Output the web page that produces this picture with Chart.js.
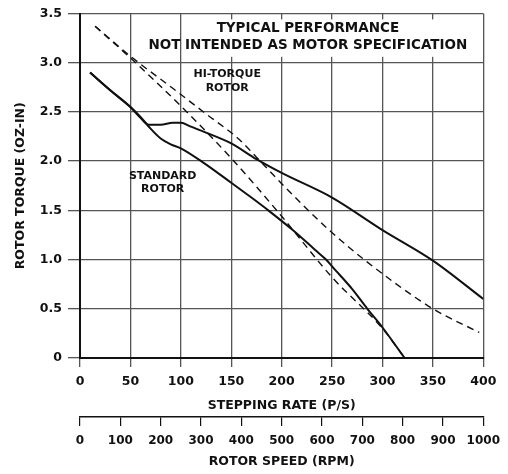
<!DOCTYPE html>
<html>
<head>
<meta charset="utf-8">
<script src="https://cdn.jsdelivr.net/npm/chart.js@4.4.1/dist/chart.umd.min.js"></script>
<style>
  html, body { margin: 0; padding: 0; background: #fff; }
</style>
</head>
<body>
<canvas id="myChart" width="508" height="474"></canvas>
<script>
// tick labels
const torqueTicks = ["0", "0.5", "1.0", "1.5", "2.0", "2.5", "3.0", "3.5"];
const rateTicks = ["0", "50", "100", "150", "200", "250", "300", "350", "400"];
const speedTicks = ["0", "100", "200", "300", "400", "500", "600", "700", "800", "900", "1000"];

// standard rotor (solid)
const stdRate = [10, 30, 50, 60, 70, 80, 90, 100, 123, 150, 170, 188, 211, 233, 244, 250, 270, 285, 300, 322];
const stdTorque = [2.9, 2.72, 2.55, 2.45, 2.33, 2.23, 2.17, 2.13, 1.98, 1.78, 1.63, 1.49, 1.3, 1.1, 1.0, 0.93, 0.7, 0.5, 0.31, 0];

// hi-torque rotor (solid)
const hiRate = [10, 30, 50, 60, 68, 80, 92, 100, 110, 125, 150, 175, 200, 250, 300, 350, 400];
const hiTorque = [2.9, 2.72, 2.55, 2.44, 2.37, 2.37, 2.39, 2.39, 2.35, 2.29, 2.18, 2.02, 1.88, 1.63, 1.3, 0.99, 0.6];

// dashed curves
const dashARate = [15, 52, 92, 125, 158, 175, 204, 246, 283, 350, 396];
const dashATorque = [3.37, 3.05, 2.74, 2.48, 2.22, 2.04, 1.73, 1.31, 0.99, 0.5, 0.26];
const dashBRate = [15, 52, 100, 150, 200, 250, 300, 322];
const dashBTorque = [3.37, 3.03, 2.56, 2.03, 1.44, 0.82, 0.3, 0];

const pts = (xs, ys) => xs.map((v, i) => ({ x: v, y: ys[i] }));

Chart.defaults.font.family = "'DejaVu Sans', sans-serif";
Chart.defaults.font.weight = "bold";
Chart.defaults.color = "#111";

const ink = "#111";
const gridInk = "#555";

const notes = {
  id: "notes",
  beforeDatasetsDraw(chart) {
    const { ctx, scales: { x, y } } = chart;
    ctx.save();
    // white panel behind the heading
    const l = x.getPixelForValue(122), r = x.getPixelForValue(398);
    const t = y.getPixelForValue(3.44), b = y.getPixelForValue(3.06);
    ctx.fillStyle = "#fff";
    ctx.fillRect(l, t, r - l, b - t);
    ctx.fillStyle = ink;
    ctx.textAlign = "center";
    ctx.textBaseline = "middle";
    ctx.font = "bold 13.5px 'DejaVu Sans'";
    ctx.fillText("TYPICAL PERFORMANCE", x.getPixelForValue(226), y.getPixelForValue(3.35));
    ctx.fillText("NOT INTENDED AS MOTOR SPECIFICATION", x.getPixelForValue(226), y.getPixelForValue(3.17));
    ctx.font = "bold 11px 'DejaVu Sans'";
    ctx.fillText("HI-TORQUE", x.getPixelForValue(146), y.getPixelForValue(2.88));
    ctx.fillText("ROTOR", x.getPixelForValue(146), y.getPixelForValue(2.74));
    ctx.fillText("STANDARD", x.getPixelForValue(82), y.getPixelForValue(1.85));
    ctx.fillText("ROTOR", x.getPixelForValue(82), y.getPixelForValue(1.72));
    ctx.restore();
  },
};

const line = (data, dashed) => ({
  data: data,
  borderColor: ink,
  borderWidth: dashed ? 1.4 : 2,
  borderDash: dashed ? [7, 5] : [],
  pointRadius: 0,
  cubicInterpolationMode: "monotone",
  fill: false,
});

new Chart(document.getElementById("myChart"), {
  type: "line",
  data: {
    datasets: [
      line(pts(stdRate, stdTorque), false),
      line(pts(hiRate, hiTorque), false),
      line(pts(dashARate, dashATorque), true),
      line(pts(dashBRate, dashBTorque), true),
    ],
  },
  options: {
    responsive: false,
    animation: false,
    layout: { padding: { top: 12, right: 22, left: 0, bottom: 0 } },
    plugins: {
      legend: { display: false },
      tooltip: { enabled: false },
    },
    scales: {
      x: {
        type: "linear",
        position: "bottom",
        weight: 0,
        min: 0,
        max: 400,
        afterFit: (s) => { s.height = 59; },
        ticks: {
          stepSize: 50,
          padding: 7,
          font: { size: 12.5 },
          callback: (v, i) => rateTicks[i],
        },
        grid: { color: gridInk, lineWidth: 1.3, tickLength: 9 },
        border: { color: ink, width: 2 },
        title: {
          display: true,
          text: "STEPPING RATE (P/S)",
          font: { size: 12.5 },
          padding: { top: 0, bottom: 4 },
        },
      },
      x2: {
        type: "linear",
        position: "bottom",
        weight: 1,
        min: 0,
        max: 1000,
        afterFit: (s) => { s.height = 57; },
        ticks: {
          stepSize: 100,
          padding: 8,
          font: { size: 12 },
          callback: (v, i) => speedTicks[i],
        },
        grid: { drawOnChartArea: false, color: ink, lineWidth: 1.2, tickLength: 9 },
        border: { color: ink, width: 1.5 },
        title: {
          display: true,
          text: "ROTOR SPEED (RPM)",
          font: { size: 12.5 },
          padding: { top: 0, bottom: 4.5 },
        },
      },
      y: {
        min: 0,
        max: 3.5,
        afterFit: (s) => { s.width = 80; },
        ticks: {
          stepSize: 0.5,
          padding: 6,
          font: { size: 12.5 },
          callback: (v, i) => torqueTicks[i],
        },
        grid: { color: gridInk, lineWidth: 1.3, tickLength: 12 },
        border: { color: ink, width: 2 },
        title: {
          display: true,
          text: "ROTOR TORQUE (OZ-IN)",
          font: { size: 12.5 },
          padding: { top: 13, bottom: 0 },
        },
      },
    },
  },
  plugins: [notes],
});
</script>
</body>
</html>
